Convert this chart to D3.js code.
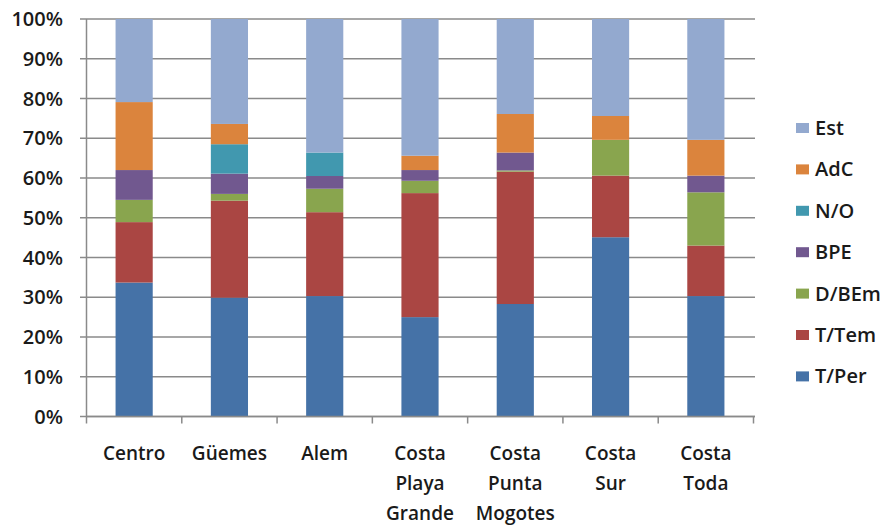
<!DOCTYPE html>
<html>
<head>
<meta charset="utf-8">
<script src="https://cdn.jsdelivr.net/npm/d3@7"></script>
<style>
body { margin: 0; background: #fff; }
text { font-family: "Open Sans", sans-serif; fill: #1a1a1a; font-weight: 600; }
</style>
</head>
<body>
<div id="chart"></div>
<script>
var width = 890, height = 528;

// categories (each one split over lines)
var categories = ["Centro", "Güemes", "Alem", "Costa Playa Grande", "Costa Punta Mogotes", "Costa Sur", "Costa Toda"];
var catLines = [["Centro"], ["Güemes"], ["Alem"], ["Costa", "Playa", "Grande"], ["Costa", "Punta", "Mogotes"], ["Costa", "Sur"], ["Costa", "Toda"]];

// series, bottom to top, percent
var seriesNames = ["T/Per", "T/Tem", "D/BEm", "BPE", "N/O", "AdC", "Est"];
var tPer  = [33.7, 29.9, 30.3, 25.0, 28.3, 45.1, 30.3];
var tTem  = [15.2, 24.4, 21.1, 31.2, 33.3, 15.5, 12.7];
var dBEm  = [5.6, 1.7, 5.9, 3.1, 0.3, 9.0, 13.4];
var bpe   = [7.5, 5.1, 3.2, 2.7, 4.5, 0, 4.2];
var nO    = [0, 7.4, 5.9, 0, 0, 0, 0];
var adC   = [17.1, 5.1, 0, 3.6, 9.7, 6.0, 9.0];
var est   = [20.9, 26.4, 33.6, 34.4, 23.9, 24.4, 30.4];
var yTicks = [0, 10, 20, 30, 40, 50, 60, 70, 80, 90, 100];

var colors = ["#4572A7", "#AA4643", "#89A54E", "#71588F", "#4198AF", "#DB843D", "#93A9CF"];

var allSeries = [tPer, tTem, dBEm, bpe, nO, adC, est];
var rows = categories.map(function(c, i) {
  var r = {cat: c};
  seriesNames.forEach(function(s, j) { r[s] = allSeries[j][i]; });
  return r;
});

var stacked = d3.stack().keys(seriesNames)(rows);

var svg = d3.select("#chart").append("svg")
  .attr("width", width)
  .attr("height", height);

var x = d3.scaleBand()
  .domain(categories)
  .range([86.5, 753.5])
  .paddingInner(0.61)
  .paddingOuter(0.305);

var y = d3.scaleLinear()
  .domain([0, 100])
  .range([416.5, 19]);

// gridlines
svg.append("g")
  .selectAll("line")
  .data(yTicks)
  .enter()
  .append("line")
  .attr("x1", 80)
  .attr("x2", 755)
  .attr("y1", function(d) { return y(d); })
  .attr("y2", function(d) { return y(d); })
  .attr("stroke", "#8a8a8a")
  .attr("stroke-width", 1.5);

// bars
svg.append("g")
  .selectAll("g")
  .data(stacked)
  .enter()
  .append("g")
  .attr("fill", function(d, i) { return colors[i]; })
  .selectAll("rect")
  .data(function(d) { return d; })
  .enter()
  .append("rect")
  .attr("x", function(d) { return x(d.data.cat); })
  .attr("width", x.bandwidth())
  .attr("y", function(d) { return y(d[1]); })
  .attr("height", function(d) { return y(d[0]) - y(d[1]); });

// y axis line
svg.append("line")
  .attr("x1", 86.5).attr("x2", 86.5)
  .attr("y1", y(100)).attr("y2", y(0))
  .attr("stroke", "#8a8a8a").attr("stroke-width", 1.5);

// x axis line and ticks
svg.append("line")
  .attr("x1", 86.5).attr("x2", 755)
  .attr("y1", y(0)).attr("y2", y(0))
  .attr("stroke", "#8a8a8a").attr("stroke-width", 1.5);

var step = x.step();
svg.append("g")
  .selectAll("line")
  .data(d3.range(categories.length + 1))
  .enter()
  .append("line")
  .attr("x1", function(i) { return 86.5 + i * step; })
  .attr("x2", function(i) { return 86.5 + i * step; })
  .attr("y1", y(0))
  .attr("y2", y(0) + 7)
  .attr("stroke", "#8a8a8a").attr("stroke-width", 1.5);

// y tick labels
svg.append("g")
  .selectAll("text")
  .data(yTicks)
  .enter()
  .append("text")
  .attr("x", 63)
  .attr("y", function(d) { return y(d); })
  .attr("dy", "0.35em")
  .attr("text-anchor", "end")
  .style("font-size", "20px")
  .text(function(d) { return d + "%"; });

// category labels
var catG = svg.append("g")
  .selectAll("text")
  .data(categories)
  .enter()
  .append("text")
  .attr("text-anchor", "middle")
  .style("font-size", "19px")
  .attr("x", function(d) { return x(d) + x.bandwidth() / 2; })
  .attr("y", 453);

catG.selectAll("tspan")
  .data(function(d, i) { return catLines[i]; })
  .enter()
  .append("tspan")
  .attr("x", function() { return d3.select(this.parentNode).attr("x"); })
  .attr("y", function(d, i) { return 453 + i * 30; })
  .attr("dy", "0.35em")
  .text(function(d) { return d; });

// legend, top entry is the top series
var legendOrder = seriesNames.slice().reverse();
var lg = svg.append("g")
  .selectAll("g")
  .data(legendOrder)
  .enter()
  .append("g")
  .attr("transform", function(d, i) { return "translate(796," + (128 + i * 41.4) + ")"; });

lg.append("rect")
  .attr("x", 0)
  .attr("y", -5)
  .attr("width", 13)
  .attr("height", 10)
  .attr("fill", function(d) { return colors[seriesNames.indexOf(d)]; });

lg.append("text")
  .attr("x", 19)
  .attr("dy", "0.35em")
  .style("font-size", "20px")
  .text(function(d) { return d; });
</script>
</body>
</html>
